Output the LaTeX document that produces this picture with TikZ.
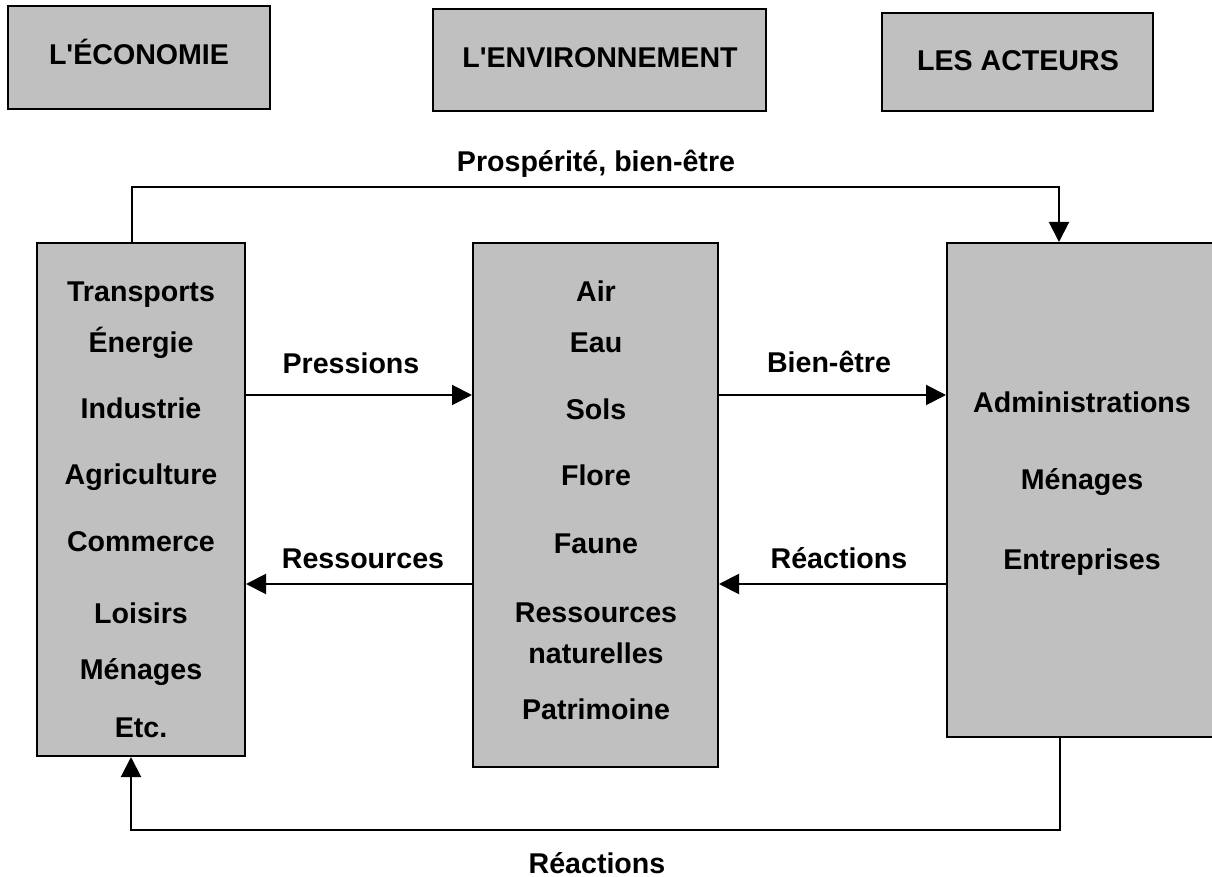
\documentclass[tikz,border=0pt]{standalone}
\usepackage{fontspec}
\setmainfont{Liberation Sans}
\usetikzlibrary{arrows.meta}
\definecolor{boxgray}{RGB}{192,192,192}

\begin{document}
\begin{tikzpicture}[x=0.5pt,y=-0.5pt,
  box/.style={draw,line width=1pt,fill=boxgray,inner sep=0pt},
  txt/.style={anchor=base,inner sep=0pt,font=\bfseries\fontsize{14.3}{17}\selectfont},
  link/.style={line width=1pt,-{Triangle[length=10pt,width=10pt]}}]

 \useasboundingbox (0,0) rectangle (1212,877);

  % headers
  \node[box,minimum width=131pt,minimum height=51.5pt] (heco) at (139,57.5) {};
  \node[box,minimum width=166.5pt,minimum height=51pt] (henv) at (599.5,60) {};
  \node[box,minimum width=135.5pt,minimum height=49pt] (hact) at (1017.5,62) {};

  \node[txt] (theco) at (139,65) {L\textquotesingle ÉCONOMIE};
  \node[txt] (thenv) at (600,68) {L\textquotesingle ENVIRONNEMENT};
  \node[txt] (thact) at (1018,71) {LES ACTEURS};

  % main boxes
  \node[box,minimum width=104pt,minimum height=256.5pt] (eco) at (141,499.5) {};
  \node[box,minimum width=122.5pt,minimum height=262pt] (env) at (595.5,505) {};
  \node[box,minimum width=134.5pt,minimum height=247pt] (act) at (1081.5,490) {};

  \node[txt] (transp) at (141,302) {Transports};
  \node[txt] (energ) at (141,353) {Énergie};
  \node[txt] (indus) at (141,419) {Industrie};
  \node[txt] (agri) at (141,485) {Agriculture};
  \node[txt] (comm) at (141,552) {Commerce};
  \node[txt] (lois) at (141,624) {Loisirs};
  \node[txt] (menl) at (141,679) {Ménages};
  \node[txt] (etc) at (141,737) {Etc.};

  \node[txt] (air) at (596,302) {Air};
  \node[txt] (eau) at (596,353) {Eau};
  \node[txt] (sols) at (596,420) {Sols};
  \node[txt] (flore) at (596,486) {Flore};
  \node[txt] (faune) at (596,553) {Faune};
  \node[txt] (ress) at (596,623) {Ressources};
  \node[txt] (nat) at (596,663) {naturelles};
  \node[txt] (patr) at (596,719) {Patrimoine};

  \node[txt] (admin) at (1082,413) {Administrations};
  \node[txt] (menr) at (1082,490) {Ménages};
  \node[txt] (entr) at (1082,569) {Entreprises};

  % connectors
  \coordinate (pl) at (132,187);
  \coordinate (pr) at (1059,187);
  \coordinate (hi) at (0,395);
  \coordinate (lo) at (0,584);
  \coordinate (ql) at (131,830);
  \coordinate (qr) at (1060,830);

  \draw[link] (eco.north -| pl) -- (pl) -- (pr) -- (pr |- act.north);
  \draw[link] (eco.east |- hi) -- (env.west |- hi);
  \draw[link] (env.east |- hi) -- (act.west |- hi);
  \draw[link] (env.west |- lo) -- (eco.east |- lo);
  \draw[link] (act.west |- lo) -- (env.east |- lo);
  \draw[link] (act.south -| qr) -- (qr) -- (ql) -- (ql |- eco.south);

  \node[txt] (lprosp) at (596,172) {Prospérité, bien-être};
  \node[txt] (lpress) at (351,374) {Pressions};
  \node[txt] (lbien) at (829,373) {Bien-être};
  \node[txt] (lress) at (363,568) {Ressources};
  \node[txt] (lreac) at (839,568) {Réactions};
  \node[txt] (lreacb) at (597,873) {Réactions};

\end{tikzpicture}
\end{document}
